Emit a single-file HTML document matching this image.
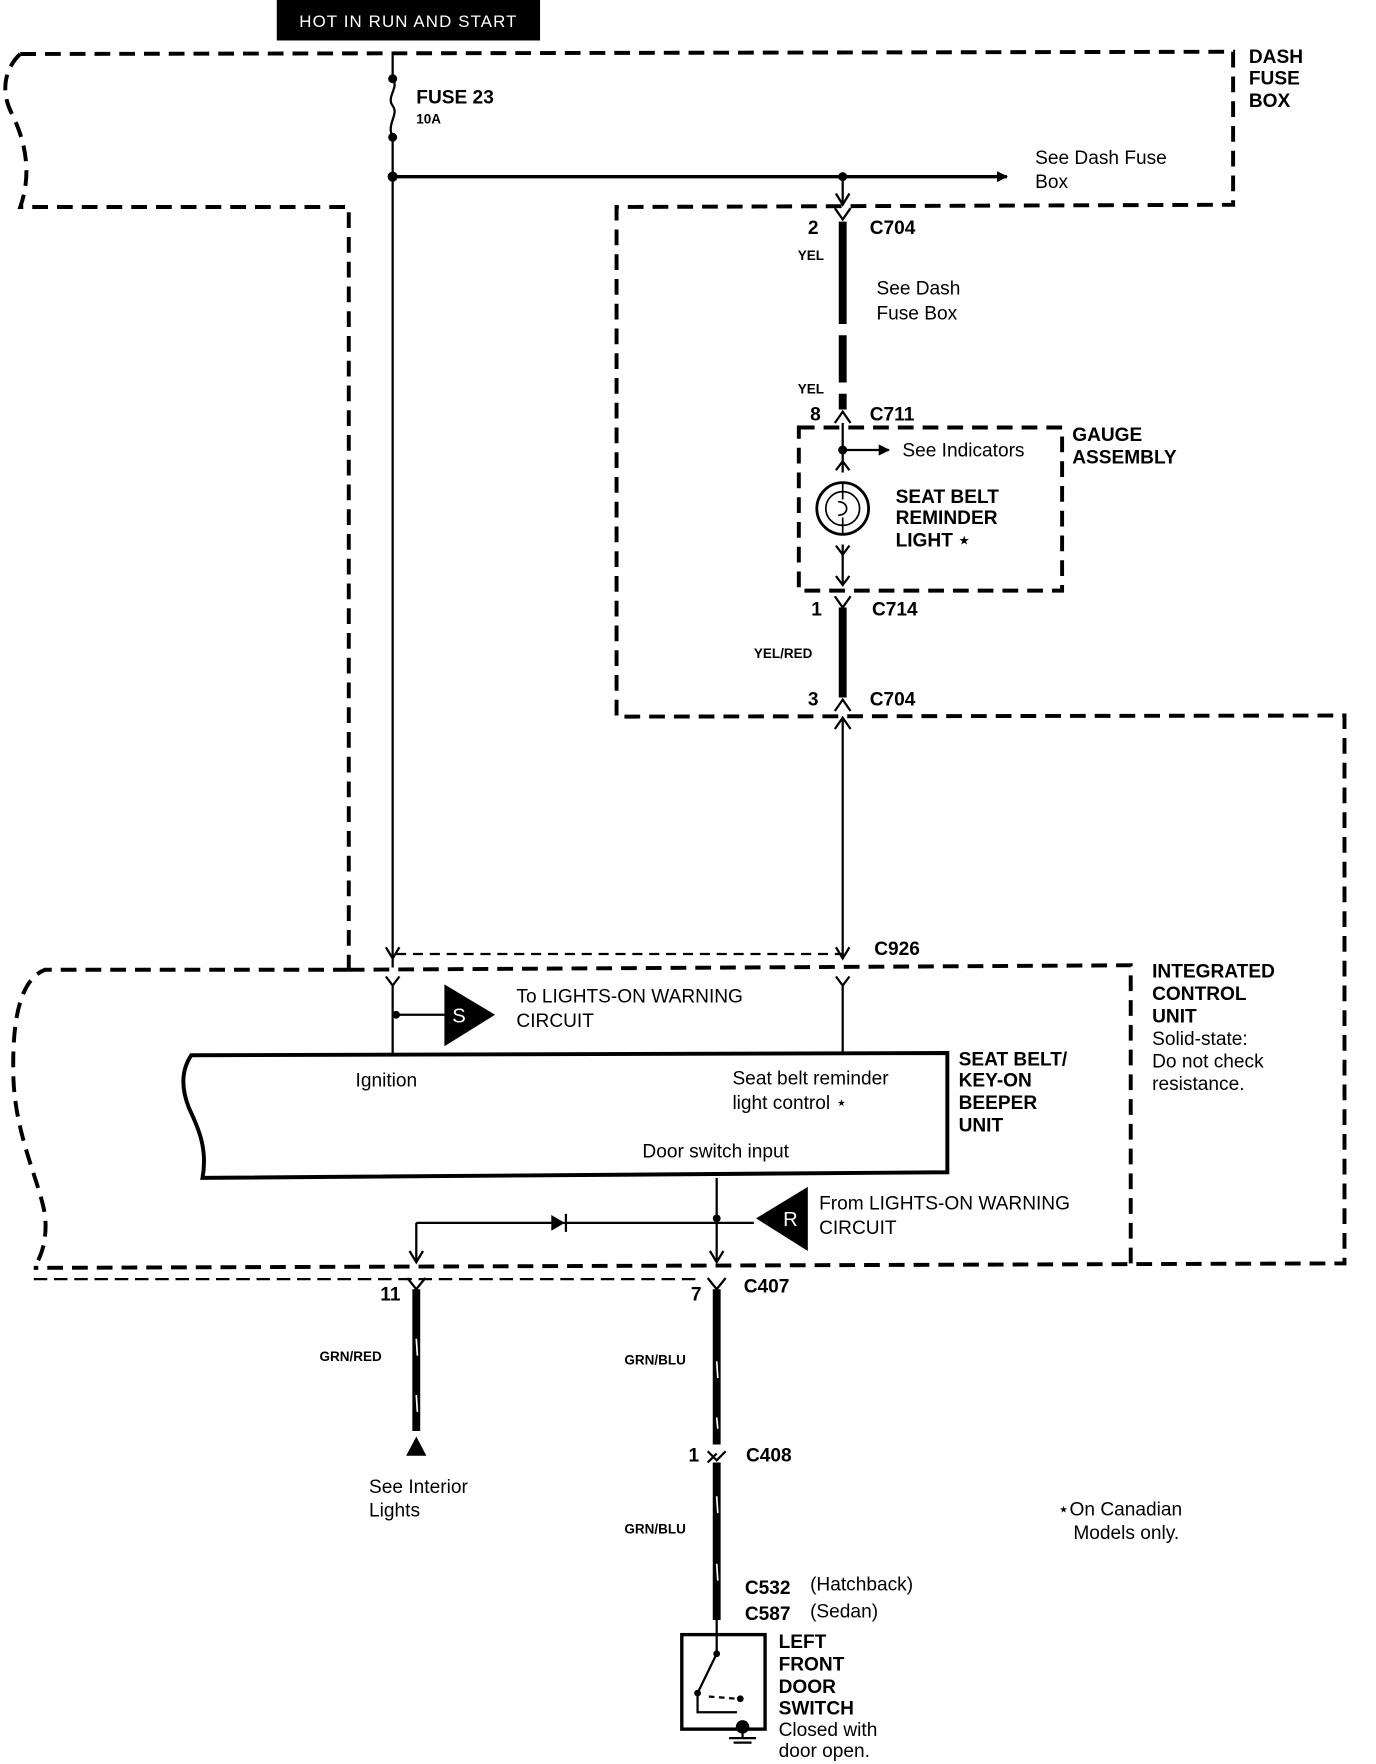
<!DOCTYPE html>
<html><head><meta charset="utf-8"><style>
html,body{margin:0;padding:0;background:#fff;}
svg{display:block;}
text{font-family:"Liberation Sans",Arial,sans-serif;fill:#000;}
.b{font-weight:bold;}
</style></head><body>
<svg width="1376" height="1764" viewBox="0 0 1223 1568" preserveAspectRatio="none" xmlns="http://www.w3.org/2000/svg">
<defs>
<marker id="ah" markerWidth="10" markerHeight="10" refX="9" refY="5" orient="auto" markerUnits="userSpaceOnUse"><path d="M0,0 L10,5 L0,10 z" fill="#000"/></marker>
</defs>
<rect x="246" y="0" width="234" height="36" fill="#000"/>
<text x="363" y="24" font-size="15" text-anchor="middle" style="fill:#fff" letter-spacing="1">HOT IN  RUN AND START</text>

<g fill="none" stroke="#000" stroke-width="3.5" stroke-dasharray="14,8">
<path d="M18,48 L1096,46 L1096,182 L548,184 L548,637 L1195,636 L1195,1123 L30,1127"/>
<path d="M18,48 C5,60 0,80 10,100 C20,120 30,150 18,184 L310,184 L310,862"/>
<path d="M310,862 L1005,858 L1005,1123"/>
<path d="M310,862 L40,862 C20,870 10,900 12,960 C14,1010 35,1050 40,1080 C42,1100 38,1115 30,1127"/>
<path d="M710,380 L944,380 L944,525 L710,525 Z"/>
</g>
<path d="M352,848 L749,848" stroke="#000" stroke-width="2" stroke-dasharray="9,6" fill="none"/>
<path d="M30,1137 L620,1137" stroke="#000" stroke-width="2" stroke-dasharray="12,6" fill="none"/>

<g stroke="#000" stroke-width="2" fill="none">
<path d="M349,46 L349,70 M349,122 L349,860"/>
<path d="M349,70 C355,78 343,86 349,94 C355,102 343,110 349,122"/>
<path d="M349,157 L895,157" stroke-width="3" marker-end="url(#ah)"/>
<path d="M749,157 L749,180"/>
<path d="M743,172 L749,182 L755,172"/>
<path d="M343,842 L349,852 L355,842"/>
<path d="M343,868 L349,876 L355,868 M349,876 L349,937"/>
<path d="M743,842 L749,852 L755,842"/>
<path d="M743,868 L749,876 L755,868 M749,876 L749,937"/>
<path d="M352,902 L395,902"/>
<path d="M742,185 L749,195 L756,185"/>
<path d="M742,376 L749,366 L756,376"/>
<path d="M749,376 L749,420 M749,484 L749,520"/>
<path d="M749,400 L790,400" marker-end="url(#ah)"/>
<path d="M743,418 L749,410 L755,418"/>
<path d="M743,485 L749,493 L755,485"/>
<path d="M743,512 L749,520 L755,512"/>
<path d="M742,530 L749,540 L756,530"/>
<path d="M742,632 L749,622 L756,632"/>
<path d="M742,648 L749,638 L756,648 M749,640 L749,850"/>
<path d="M637,1047 L637,1120"/>
<path d="M370,1087 L670,1087"/>
<path d="M370,1087 L370,1120"/>
<path d="M364,1112 L370,1122 L376,1112"/>
<path d="M631,1112 L637,1122 L643,1112"/>
<path d="M362,1136 L370,1146 L378,1136"/>
<path d="M629,1136 L637,1146 L645,1136"/>
<path d="M629,1290 L637,1298 L645,1290 M629,1300 L637,1292"/>
</g>
<circle cx="349" cy="70" r="4"/><circle cx="349" cy="122" r="4"/><circle cx="349" cy="157" r="4.5"/>
<circle cx="749" cy="157" r="4"/><circle cx="749" cy="400" r="4"/>
<circle cx="352" cy="902" r="3.5"/><circle cx="637" cy="1083" r="3.5"/>
<g stroke="#000" stroke-width="7" fill="none">
<path d="M749,197 L749,288 M749,298 L749,340 M749,350 L749,364"/>
<path d="M749,540 L749,620"/>
<path d="M370,1146 L370,1272"/>
<path d="M637,1146 L637,1284"/>
<path d="M637,1300 L637,1440"/>
</g>
<g stroke="#fff" stroke-width="1.5"><path d="M370,1190 L371,1205 M370,1240 L371,1255 M637,1210 L638,1225 M637,1260 L638,1270 M637,1330 L638,1345 M637,1390 L638,1405"/></g>
<polygon points="361,1294 379,1294 370,1277" fill="#000"/>
<circle cx="749" cy="452" r="23" fill="none" stroke="#000" stroke-width="2.5"/>
<circle cx="749" cy="452" r="15" fill="none" stroke="#000" stroke-width="1.5"/>
<path d="M749,430 L749,444 M749,460 L749,474 M745,446 C755,446 755,458 745,458" stroke="#000" stroke-width="1.5" fill="none"/>
<polygon points="395,875 440,902 395,930" fill="#000"/>
<text x="402" y="909" font-size="18" style="fill:#fff">S</text>
<polygon points="718,1055 718,1112 672,1083" fill="#000"/>
<text x="696" y="1090" font-size="18" style="fill:#fff">R</text>
<polygon points="490,1080 490,1094 502,1087" fill="#000"/><path d="M503,1079 L503,1095" stroke="#000" stroke-width="2"/>
<path d="M170,938 L842,936 L842,1042 L180,1047 C185,1020 175,1000 168,985 C160,965 162,950 170,938 Z" fill="none" stroke="#000" stroke-width="3.5"/>
<rect x="606" y="1453" width="74" height="84" fill="none" stroke="#000" stroke-width="3"/>
<path d="M637,1440 L637,1470 M637,1470 L620,1505 M620,1505 L620,1522 L655,1522" stroke="#000" stroke-width="2" fill="none"/>
<path d="M630,1508 L655,1510" stroke="#000" stroke-width="2" stroke-dasharray="5,4"/>
<circle cx="637" cy="1470" r="3"/><circle cx="620" cy="1505" r="3"/><circle cx="658" cy="1510" r="3"/>
<circle cx="660" cy="1535" r="6"/>
<path d="M660,1537 L660,1545 M648,1545 L672,1545 M652,1549 L668,1549" stroke="#000" stroke-width="2"/>

<g font-size="17">
<text x="370" y="92" class="b">FUSE 23</text>
<text x="370" y="110" class="b" font-size="12">10A</text>
<text x="1110" y="56" class="b">DASH</text><text x="1110" y="75" class="b">FUSE</text><text x="1110" y="95" class="b">BOX</text>
<text x="920" y="146">See Dash Fuse</text><text x="920" y="167">Box</text>
<text x="718" y="208" class="b">2</text><text x="773" y="208" class="b">C704</text>
<text x="709" y="231" class="b" font-size="12">YEL</text>
<text x="779" y="262">See Dash</text><text x="779" y="284">Fuse Box</text>
<text x="709" y="350" class="b" font-size="12">YEL</text>
<text x="720" y="374" class="b">8</text><text x="773" y="374" class="b">C711</text>
<text x="953" y="392" class="b">GAUGE</text><text x="953" y="412" class="b">ASSEMBLY</text>
<text x="802" y="406">See Indicators</text>
<text x="796" y="447" class="b">SEAT BELT</text><text x="796" y="466" class="b">REMINDER</text><text x="796" y="486" class="b">LIGHT ⋆</text>
<text x="721" y="547" class="b">1</text><text x="775" y="547" class="b">C714</text>
<text x="670" y="585" class="b" font-size="12">YEL/RED</text>
<text x="718" y="627" class="b">3</text><text x="773" y="627" class="b">C704</text>
<text x="777" y="849" class="b">C926</text>
<text x="1024" y="869" class="b">INTEGRATED</text><text x="1024" y="889" class="b">CONTROL</text><text x="1024" y="909" class="b">UNIT</text>
<text x="1024" y="929">Solid-state:</text><text x="1024" y="949">Do not check</text><text x="1024" y="969">resistance.</text>
<text x="459" y="891">To LIGHTS-ON WARNING</text><text x="459" y="913">CIRCUIT</text>
<text x="316" y="966">Ignition</text>
<text x="651" y="964">Seat belt reminder</text><text x="651" y="986">light control ⋆</text>
<text x="571" y="1029">Door switch input</text>
<text x="852" y="947" class="b">SEAT BELT/</text><text x="852" y="966" class="b">KEY-ON</text><text x="852" y="986" class="b">BEEPER</text><text x="852" y="1006" class="b">UNIT</text>
<text x="728" y="1075">From LIGHTS-ON WARNING</text><text x="728" y="1097">CIRCUIT</text>
<text x="338" y="1156" class="b">11</text>
<text x="614" y="1156" class="b">7</text><text x="661" y="1149" class="b">C407</text>
<text x="284" y="1210" class="b" font-size="12">GRN/RED</text>
<text x="555" y="1213" class="b" font-size="12">GRN/BLU</text>
<text x="328" y="1327">See Interior</text><text x="328" y="1348">Lights</text>
<text x="612" y="1299" class="b">1</text><text x="663" y="1299" class="b">C408</text>
<text x="555" y="1363" class="b" font-size="12">GRN/BLU</text>
<text x="940" y="1347">⋆On Canadian</text><text x="954" y="1368">Models only.</text>
<text x="662" y="1417" class="b">C532</text><text x="720" y="1414">(Hatchback)</text>
<text x="662" y="1440" class="b">C587</text><text x="720" y="1438">(Sedan)</text>
<text x="692" y="1465" class="b">LEFT</text><text x="692" y="1485" class="b">FRONT</text><text x="692" y="1505" class="b">DOOR</text><text x="692" y="1524" class="b">SWITCH</text>
<text x="692" y="1543">Closed with</text><text x="692" y="1562">door open.</text>
</g>
</svg>
</body></html>
